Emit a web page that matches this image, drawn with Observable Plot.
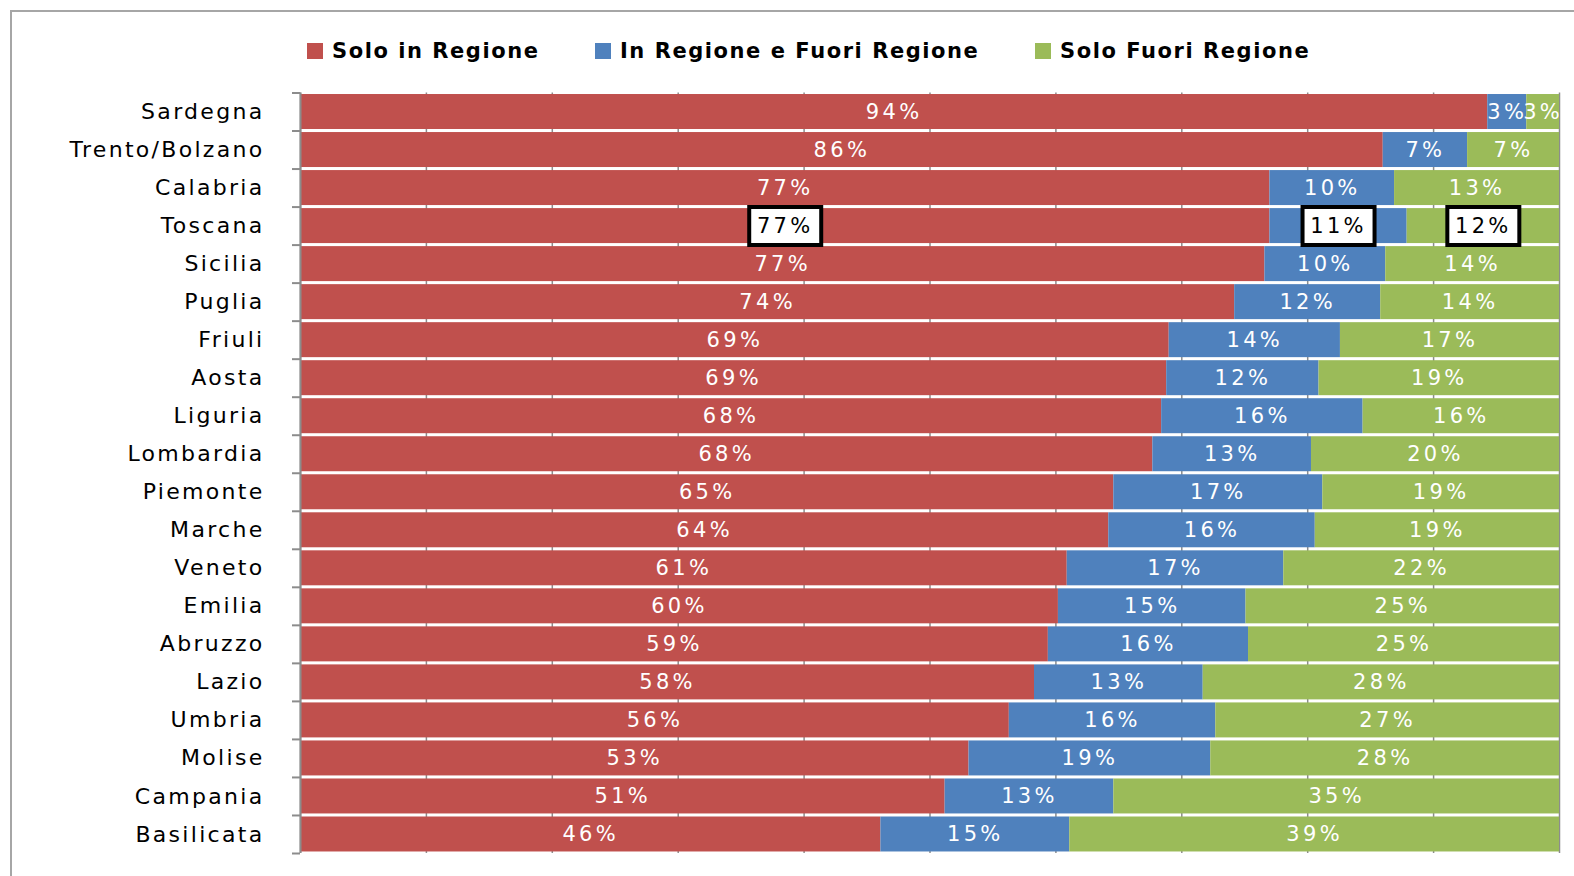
<!DOCTYPE html>
<html><head><meta charset="utf-8">
<script src="https://cdn.jsdelivr.net/npm/d3@7"></script>
<script src="https://cdn.jsdelivr.net/npm/@observablehq/plot@0.6"></script>
<style>
body{margin:0;background:#fff;overflow:hidden;width:1574px;height:876px;position:relative;}
#frame{position:absolute;left:10px;top:10px;width:1620px;height:920px;border-left:2px solid #a6a6a6;border-top:2px solid #a6a6a6;}
#legend{position:relative;height:75px;}
.item{position:absolute;top:37px;height:28px;display:flex;align-items:center;font:bold 21px "DejaVu Sans";letter-spacing:1.55px;color:#000;white-space:nowrap;}
.sw{width:16px;height:16px;margin-right:9px;}
#chart{position:relative;}
#chart g[aria-label="text"] text{letter-spacing:3.3px;}
</style></head><body>
<div id="frame"></div>
<div id="legend"></div>
<div id="chart"></div>
<script>
const regions = ["Sardegna","Trento/Bolzano","Calabria","Toscana","Sicilia","Puglia","Friuli","Aosta","Liguria","Lombardia","Piemonte","Marche","Veneto","Emilia","Abruzzo","Lazio","Umbria","Molise","Campania","Basilicata"];
const series = ["Solo in Regione","In Regione e Fuori Regione","Solo Fuori Regione"];
const soloInRegione   = [94.3,86.0,77.0,77.0,76.6,74.2,69.0,68.8,68.4,67.7,64.6,64.2,60.9,60.2,59.4,58.3,56.3,53.1,51.2,46.1];
const inEFuoriRegione = [3.1,6.7,9.9,10.9,9.6,11.6,13.6,12.1,16.0,12.6,16.6,16.4,17.2,14.9,15.9,13.4,16.4,19.2,13.4,15.0];
const soloFuoriRegione= [2.6,7.3,13.1,12.1,13.8,14.2,17.4,19.1,15.6,19.7,18.8,19.4,21.9,24.9,24.7,28.3,27.3,27.7,35.4,38.9];
const colors = ["#C0504D","#4F81BD","#9BBB59"];
const highlighted = ["Toscana"];
const legendLeft = [307, 595, 1035];

const data = regions.flatMap((r, i) =>
  [soloInRegione[i], inEFuoriRegione[i], soloFuoriRegione[i]].map((v, j) => ({region: r, series: series[j], value: v}))
);

// legend
const legend = document.getElementById("legend");
series.forEach((s, i) => {
  const it = document.createElement("div");
  it.className = "item";
  it.style.left = legendLeft[i] + "px";
  it.innerHTML = `<span class="sw" style="background:${colors[i]}"></span><span>${s}</span>`;
  legend.appendChild(it);
});

const step = (853 - 92.5) / regions.length;
const boxSymbol = {draw(ctx) { ctx.rect(-36, -19, 72, 38); }};
const stackOpts = {x: "value", y: "region", z: "series"};
const label = d => Math.round(d.value) + "%";

const chart = Plot.plot({
  width: 1574,
  height: 801,
  marginLeft: 300,
  marginRight: 15,
  marginTop: 17.5,
  marginBottom: 23,
  style: {fontFamily: "DejaVu Sans", letterSpacing: "2.3px", background: "transparent"},
  x: {domain: [0, 100], axis: null},
  y: {domain: regions, paddingInner: 0.08, paddingOuter: 0.04, round: false, axis: null, label: null},
  color: {domain: series, range: colors},
  marks: [
    Plot.gridX({ticks: 10, stroke: "#8c8c8c", strokeOpacity: 1, strokeWidth: 1.5}),
    Plot.barX(data, Plot.stackX({...stackOpts, fill: "series"})),
    Plot.ruleX([0], {stroke: "#8c8c8c", strokeWidth: 2}),
    Plot.axisY({tickSize: 8, tickFormat: () => "", label: null, dy: -step / 2, stroke: "#8c8c8c", strokeWidth: 2}),
    Plot.axisY({ticks: [regions[regions.length - 1]], tickSize: 8, tickFormat: () => "", label: null, dy: step / 2, stroke: "#8c8c8c", strokeWidth: 2}),
    Plot.axisY({tickSize: 0, tickPadding: 36, fontSize: 22, fill: "#000", label: null}),
    Plot.text(data, Plot.stackX({...stackOpts, text: label, filter: d => !highlighted.includes(d.region), fill: "white", fontSize: 21, clip: true})),
    Plot.dot(data, Plot.stackX({...stackOpts, filter: d => highlighted.includes(d.region), symbol: boxSymbol, r: 5, fill: "white", stroke: "black", strokeWidth: 4})),
    Plot.text(data, Plot.stackX({...stackOpts, text: label, filter: d => highlighted.includes(d.region), fill: "black", fontSize: 21}))
  ]
});
document.getElementById("chart").appendChild(chart);
</script>
</body></html>
